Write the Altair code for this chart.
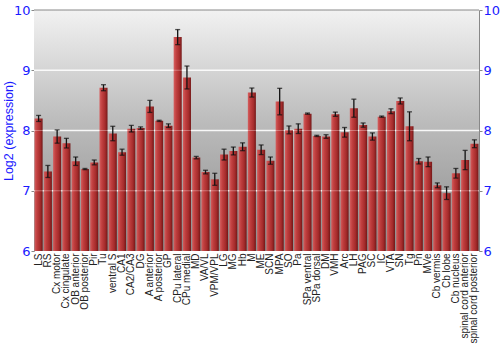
import altair as alt
import pandas as pd

regions = ["LS", "RS", "Cx motor", "Cx cingulate", "OB anterior", "OB posterior", "Pir", "Tu",
           "ventral S", "CA1", "CA2/CA3", "DG", "A anterior", "A posterior", "GP", "CPu lateral",
           "CPu medial", "MD", "VA/VL", "VPM/VPL", "LG", "MG", "Hb", "M", "ME", "SCN", "MPA",
           "SO", "Pa", "SPa ventral", "SPa dorsal", "DM", "VMH", "Arc", "LH", "PAG", "SC", "IC",
           "VTA", "SN", "Tg", "Pn", "MVe", "Cb vermis", "Cb lobe", "Cb nucleus",
           "spinal cord anterior", "spinal cord posterior"]
values = [8.20, 7.32, 7.90, 7.79, 7.49, 7.36, 7.47, 8.71,
          7.95, 7.64, 8.03, 8.04, 8.40, 8.16, 8.08, 9.55,
          8.88, 7.55, 7.31, 7.19, 7.60, 7.66, 7.73, 8.63, 7.68, 7.50, 8.48,
          8.01, 8.03, 8.28, 7.91, 7.90, 8.27, 7.97, 8.37, 8.09, 7.90, 8.23,
          8.32, 8.49, 8.07, 7.49, 7.48, 7.09, 6.96, 7.29,
          7.51, 7.78]
errors = [0.05, 0.10, 0.11, 0.08, 0.07, 0.01, 0.04, 0.05,
          0.12, 0.05, 0.055, 0.02, 0.10, 0.01, 0.03, 0.125,
          0.19, 0.02, 0.03, 0.10, 0.09, 0.065, 0.065, 0.075, 0.08, 0.06, 0.22,
          0.065, 0.08, 0.01, 0.01, 0.03, 0.035, 0.08, 0.15, 0.035, 0.06, 0.01,
          0.04, 0.05, 0.24, 0.045, 0.08, 0.04, 0.105, 0.08,
          0.16, 0.065]
grid_levels = [7, 8, 9]
top_level = [10]

df = pd.DataFrame({"region": regions, "value": values, "err": errors})
df["lo"] = df["value"] - df["err"]
df["hi"] = df["value"] + df["err"]

W, H = 445, 241
BLUE = "#1a1aff"

x_enc = alt.X("region:N", sort=regions, title=None,
              scale=alt.Scale(paddingInner=0.13, paddingOuter=0.06),
              axis=alt.Axis(labelAngle=-90, labelFontSize=10, labelColor="#222",
                            labelFont="Liberation Sans", ticks=False, domain=False,
                            labelPadding=2, labelLimit=0))
yscale = alt.Scale(domain=[6, 10], zero=False, nice=False)

bg_grad = alt.LinearGradient(gradient="linear", x1=0, y1=0, x2=0, y2=1,
                             stops=[alt.GradientStop(color="#f2f2f2", offset=0),
                                    alt.GradientStop(color="#bdbdbd", offset=0.45),
                                    alt.GradientStop(color="#8c8c8c", offset=1)])
bar_grad = alt.LinearGradient(gradient="linear", x1=0, y1=0, x2=1, y2=0,
                              stops=[alt.GradientStop(color="#d65a5a", offset=0),
                                     alt.GradientStop(color="#c23a3a", offset=0.3),
                                     alt.GradientStop(color="#a52525", offset=0.7),
                                     alt.GradientStop(color="#701010", offset=1)])

bg = alt.Chart(pd.DataFrame({"a": [0]})).mark_rect(fill=bg_grad).encode(
    x=alt.value(0), x2=alt.value(W), y=alt.value(0), y2=alt.value(H))

grid_under = alt.Chart(pd.DataFrame({"g": grid_levels})).mark_rule(
    color="white", strokeWidth=1.5, opacity=0.85).encode(
    y=alt.Y("g:Q", scale=yscale, axis=None), x=alt.value(0), x2=alt.value(W))

bars = alt.Chart(df).mark_bar(fill=bar_grad, opacity=0.95).encode(
    x=x_enc,
    y=alt.Y("value:Q", scale=yscale, title="Log2 (expression)",
            axis=alt.Axis(orient="left", values=[6, 7, 8, 9, 10], grid=False,
                          labelColor=BLUE, titleColor=BLUE, labelFontSize=13,
                          labelFont="DejaVu Sans", titleFont="Liberation Sans",
                          titleFontSize=12.5, titleFontWeight="normal",
                          domainColor="#888", tickColor="#888", tickSize=3,
                          labelPadding=1, titleX=-25.5, titleY=H / 2,
                          titleAngle=-90, titleAlign="center", titleBaseline="middle")),
    y2=alt.datum(6))

grid_over = alt.Chart(pd.DataFrame({"g": grid_levels})).mark_rule(
    color="white", strokeWidth=1.2, opacity=0.3).encode(
    y=alt.Y("g:Q", scale=yscale, axis=None), x=alt.value(0), x2=alt.value(W))

top_line = alt.Chart(pd.DataFrame({"t": top_level})).mark_rule(
    color="#888", strokeWidth=1).encode(
    y=alt.Y("t:Q", scale=yscale, axis=None), x=alt.value(0), x2=alt.value(W))

err_rule = alt.Chart(df).mark_rule(color="#111", strokeWidth=1.3).encode(
    x=alt.X("region:N", sort=regions),
    y=alt.Y("lo:Q", scale=yscale,
            axis=alt.Axis(orient="right", values=[6, 7, 8, 9, 10], grid=False,
                          labelColor=BLUE, labelFontSize=13, labelFont="DejaVu Sans",
                          domainColor="#888", tickColor="#888", tickSize=3,
                          labelPadding=1, title=None)),
    y2="hi:Q")

cap_lo = alt.Chart(df).mark_tick(color="#111", thickness=1.3, size=5).encode(
    x=alt.X("region:N", sort=regions), y=alt.Y("lo:Q", scale=yscale, axis=None))
cap_hi = alt.Chart(df).mark_tick(color="#111", thickness=1.3, size=5).encode(
    x=alt.X("region:N", sort=regions), y=alt.Y("hi:Q", scale=yscale, axis=None))

chart = alt.layer(bg, grid_under, bars, grid_over, top_line, err_rule, cap_lo, cap_hi).resolve_axis(
    y="independent").properties(
    width=W, height=H, autosize="none",
    padding={"left": 34, "top": 10, "right": 21, "bottom": 99},
    background="white").configure_view(stroke=None)

chart.save("out.html", embed_options={"renderer": "svg", "actions": False})
